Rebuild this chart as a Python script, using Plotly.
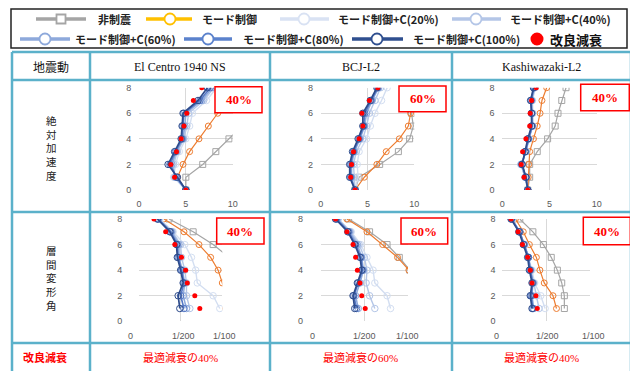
import plotly.graph_objects as go

W, H = 638, 371
OFF = 8  # page body margin: figure starts 8px right/down in the browser

# ---------------- data ----------------
QUAKES = ["El Centro 1940 NS", "BCJ-L2", "Kashiwazaki-L2"]
ROW_LABELS = ["絶対加速度", "層間変形角"]
BOX_LABELS = ["40%", "60%", "40%"]
BOTTOM_LABELS = ["最適減衰の40%", "最適減衰の60%", "最適減衰の40%"]
SERIES = ["非制震", "モード制御", "モード制御+C(20%)", "モード制御+C(40%)",
          "モード制御+C(60%)", "モード制御+C(80%)", "モード制御+C(100%)", "改良減衰"]

FLOORS_ACC = [0, 1, 2, 3, 4, 5, 6, 7, 8]
FLOORS_DRIFT = [1, 2, 3, 4, 5, 6, 7, 8]
ACC_TICKS = [0, 5, 10]
DRIFT_TICKS = [0, 5, 10]          # in 1/1000 rad
DRIFT_TICKTEXT = ["0", "1/200", "1/100"]
Y_TICKS = [0, 2, 4, 6, 8]

# absolute acceleration (m/s2) -- El Centro
ELC_ACC_NON = [5.0, 5.0, 6.8, 8.2, 9.6, 11.0, 12.0, 12.8, 13.5]
ELC_ACC_MODE = [5.0, 4.1, 4.7, 5.4, 6.4, 7.4, 8.4, 9.7, 11.0]
ELC_ACC_C20 = [5.0, 3.7, 3.9, 4.3, 5.0, 5.4, 5.7, 7.2, 8.3]
ELC_ACC_C40 = [5.0, 3.8, 3.7, 4.1, 4.8, 5.1, 5.3, 6.9, 8.0]
ELC_ACC_C60 = [5.0, 3.9, 3.5, 4.0, 4.7, 4.9, 5.0, 6.7, 7.8]
ELC_ACC_C80 = [5.0, 4.0, 3.3, 3.9, 4.6, 4.7, 4.8, 6.5, 7.6]
ELC_ACC_C100 = [5.0, 4.1, 3.1, 3.8, 4.5, 4.6, 4.7, 6.3, 7.3]
ELC_ACC_IMP = [5.0, 3.8, 3.4, 4.0, 4.5, 4.8, 5.1, 5.8, 6.7]

# BCJ-L2
BCJ_ACC_NON = [3.67, 4.1, 6.3, 8.3, 9.5, 9.9, 9.7, 10.4, 11.0]
BCJ_ACC_MODE = [3.67, 4.66, 6.0, 7.0, 8.4, 9.36, 9.6, 9.8, 10.5]
BCJ_ACC_C20 = [3.67, 4.0, 3.9, 4.1, 4.9, 5.3, 5.8, 6.5, 7.1]
BCJ_ACC_C40 = [3.67, 3.6, 3.5, 3.8, 4.5, 4.9, 5.2, 5.8, 6.4]
BCJ_ACC_C60 = [3.67, 3.3, 3.3, 3.6, 4.2, 4.7, 4.9, 5.5, 6.2]
BCJ_ACC_C80 = [3.67, 3.2, 3.2, 3.5, 4.1, 4.6, 4.7, 5.4, 6.1]
BCJ_ACC_C100 = [3.67, 3.1, 3.1, 3.4, 4.0, 4.5, 4.5, 5.3, 6.0]
BCJ_ACC_IMP = [3.67, 3.2, 3.3, 3.5, 4.1, 4.5, 4.4, 5.2, 6.1]

# Kashiwazaki-L2
KSW_ACC_NON = [2.7, 2.9, 2.9, 3.7, 4.8, 5.6, 5.9, 6.3, 6.75]
KSW_ACC_MODE = [2.7, 2.75, 2.8, 2.9, 3.3, 3.7, 4.0, 4.2, 4.7]
KSW_ACC_C20 = [2.7, 2.4, 1.95, 2.55, 2.85, 3.25, 3.25, 3.2, 3.5]
KSW_ACC_C40 = [2.7, 2.4, 2.0, 2.5, 2.8, 3.2, 3.2, 3.15, 3.45]
KSW_ACC_C60 = [2.7, 2.45, 2.0, 2.5, 2.8, 3.2, 3.15, 3.1, 3.4]
KSW_ACC_C80 = [2.7, 2.5, 2.1, 2.45, 2.75, 3.15, 3.1, 3.05, 3.35]
KSW_ACC_C100 = [2.7, 2.5, 2.1, 2.4, 2.7, 3.1, 3.1, 3.0, 3.3]
KSW_ACC_IMP = [2.7, 2.3, 2.0, 2.15, 2.5, 2.9, 2.95, 3.1, 3.6]

# story drift angle (1/1000 rad), floors 1..8 -- El Centro
ELC_DR_NON = [11.5, 11.8, 12.0, 11.5, 10.8, 8.9, 6.5, 3.6]
ELC_DR_MODE = [10.4, 10.6, 10.0, 9.5, 8.6, 7.2, 5.4, 3.0]
ELC_DR_C20 = [9.7, 8.9, 7.0, 6.8, 6.3, 5.5, 4.1, 2.5]
ELC_DR_C40 = [6.1, 5.7, 5.7, 5.5, 5.1, 5.0, 4.0, 2.4]
ELC_DR_C60 = [5.7, 5.3, 5.5, 5.2, 4.8, 4.8, 3.9, 2.3]
ELC_DR_C80 = [5.4, 5.0, 5.4, 5.1, 4.7, 4.6, 3.8, 2.3]
ELC_DR_C100 = [4.9, 4.7, 5.3, 5.0, 4.6, 4.5, 3.7, 2.2]
ELC_DR_IMP = [7.3, 6.7, 5.8, 5.6, 5.1, 4.3, 3.2, 1.8]

# BCJ-L2
BCJ_DR_NON = [11.0, 11.0, 10.8, 10.2, 9.0, 7.6, 5.6, 3.2]
BCJ_DR_MODE = [10.8, 10.8, 10.6, 10.1, 8.8, 7.1, 5.3, 3.0]
BCJ_DR_C20 = [8.0, 7.6, 6.2, 6.0, 5.3, 4.6, 3.5, 2.0]
BCJ_DR_C40 = [6.2, 5.6, 5.2, 5.3, 5.0, 4.4, 3.4, 2.0]
BCJ_DR_C60 = [4.3, 4.0, 4.5, 4.9, 4.7, 4.2, 3.3, 1.9]
BCJ_DR_C80 = [4.1, 3.8, 4.3, 4.8, 4.6, 4.0, 3.2, 1.8]
BCJ_DR_C100 = [3.9, 3.7, 4.2, 4.7, 4.5, 3.9, 3.1, 1.7]
BCJ_DR_IMP = [5.1, 4.7, 4.5, 4.2, 4.0, 3.7, 3.0, 1.7]

# Kashiwazaki-L2
KSW_DR_NON = [7.1, 7.1, 6.8, 6.3, 5.6, 4.7, 3.5, 2.0]
KSW_DR_MODE = [6.2, 5.8, 4.8, 4.3, 3.9, 3.1, 2.4, 1.5]
KSW_DR_C20 = [4.9, 4.4, 3.7, 3.4, 3.0, 2.6, 1.9, 1.2]
KSW_DR_C40 = [4.2, 3.9, 3.6, 3.3, 3.0, 2.5, 1.9, 1.1]
KSW_DR_C60 = [3.6, 3.4, 3.5, 3.2, 3.0, 2.5, 2.0, 1.1]
KSW_DR_C80 = [3.5, 3.3, 3.5, 3.2, 3.0, 2.5, 2.0, 1.05]
KSW_DR_C100 = [3.4, 3.2, 3.4, 3.1, 2.9, 2.4, 1.9, 1.0]
KSW_DR_IMP = [4.0, 3.85, 3.4, 3.2, 2.9, 2.3, 1.8, 1.0]

PANELS = [
    ("acc", [ELC_ACC_NON, ELC_ACC_MODE, ELC_ACC_C20, ELC_ACC_C40, ELC_ACC_C60, ELC_ACC_C80, ELC_ACC_C100, ELC_ACC_IMP]),
    ("acc", [BCJ_ACC_NON, BCJ_ACC_MODE, BCJ_ACC_C20, BCJ_ACC_C40, BCJ_ACC_C60, BCJ_ACC_C80, BCJ_ACC_C100, BCJ_ACC_IMP]),
    ("acc", [KSW_ACC_NON, KSW_ACC_MODE, KSW_ACC_C20, KSW_ACC_C40, KSW_ACC_C60, KSW_ACC_C80, KSW_ACC_C100, KSW_ACC_IMP]),
    ("drift", [ELC_DR_NON, ELC_DR_MODE, ELC_DR_C20, ELC_DR_C40, ELC_DR_C60, ELC_DR_C80, ELC_DR_C100, ELC_DR_IMP]),
    ("drift", [BCJ_DR_NON, BCJ_DR_MODE, BCJ_DR_C20, BCJ_DR_C40, BCJ_DR_C60, BCJ_DR_C80, BCJ_DR_C100, BCJ_DR_IMP]),
    ("drift", [KSW_DR_NON, KSW_DR_MODE, KSW_DR_C20, KSW_DR_C40, KSW_DR_C60, KSW_DR_C80, KSW_DR_C100, KSW_DR_IMP]),
]

# ---------------- styles ----------------
COLORS = ["#A5A5A5", "#ED7D31", "#D3DEF1", "#B4C6E7", "#8EA9DB", "#5679C6", "#2E4C8C", "#FF0000"]
LEGEND_COLORS = ["#A5A5A5", "#FFC000", "#D9E2F3", "#B4C6E7", "#8EA9DB", "#5B82CC", "#2F4F8F", "#FF0000"]
SYMBOLS = ["square-open", "circle-open"] + ["circle-open"] * 5 + ["circle"]
SIZES = [6, 6, 6.5, 6.5, 6.5, 6.5, 6.5, 5]
LWIDTH = [1.2, 1.2, 1.4, 1.4, 1.5, 1.6, 1.7, 0]
JP = "Noto Sans CJK JP"
SERIF = "Liberation Serif"
TICK_FONT = dict(family="Liberation Sans", size=9, color="#595959")
TABLE_C = "#5BB1CA"


def px(x):
    return (x - OFF) / W


def py(y):
    return 1 - (y - OFF) / H


def text_ann(x, y, text, font, xanchor="center"):
    return dict(x=px(x), y=py(y), xref="paper", yref="paper", xanchor=xanchor, yanchor="middle",
                text=text, showarrow=False, font=font)


# plot area rectangles (screen pixels): x0, x1 ; ytop, ybottom
ACC_Y = (87.7, 190.0)
DR_Y = (219.0, 321.3)
ACC_X = [(139.0, 232.7), (320.7, 414.3), (502.3, 596.7)]
DR_X = [(139.0, 222.3), (320.7, 408.0), (502.3, 589.7)]
DR_YTICKLEN = [14, 15, 4]
DR_XLABEL_SHIFT = [[-9, 3, 2], [-8, 0, -1], [-6, 1, 4]]
DR_XLABEL_Y = 335.7

fig = go.Figure()
layout_axes = {}
annotations = []

for i, (kind, series) in enumerate(PANELS):
    n = i + 1
    xa = "x" if n == 1 else f"x{n}"
    ya = "y" if n == 1 else f"y{n}"
    col = i % 3
    if kind == "acc":
        x0, x1 = ACC_X[col]
        yt, yb = ACC_Y
        floors = FLOORS_ACC
    else:
        x0, x1 = DR_X[col]
        yt, yb = DR_Y
        floors = FLOORS_DRIFT
    for s, vals in enumerate(series):
        is_pt = s == len(series) - 1
        fig.add_trace(go.Scatter(
            x=vals, y=floors, xaxis=xa, yaxis=ya,
            mode="markers" if is_pt else "lines+markers",
            name=SERIES[s], showlegend=False,
            line=dict(color=COLORS[s], width=LWIDTH[s] if not is_pt else 1),
            marker=dict(symbol=SYMBOLS[s], size=SIZES[s], color=COLORS[s],
                        line=dict(width=0 if is_pt else 1, color=COLORS[s])),
            cliponaxis=True,
        ))
    kx = "xaxis" if n == 1 else f"xaxis{n}"
    ky = "yaxis" if n == 1 else f"yaxis{n}"
    xax = dict(
        domain=[px(x0), px(x1)], anchor=ya, range=[0, 10],
        tickmode="array", tickvals=ACC_TICKS if kind == "acc" else DRIFT_TICKS,
        showgrid=True, gridcolor="#D9D9D9", gridwidth=1, zeroline=False,
        showline=False, ticks="outside", ticklen=5, tickcolor="rgba(0,0,0,0)",
        tickfont=TICK_FONT, fixedrange=True, automargin=False,
    )
    if kind == "drift":
        xax["showticklabels"] = False
        for t, (tv, tt) in enumerate(zip(DRIFT_TICKS, DRIFT_TICKTEXT)):
            annotations.append(dict(x=tv, y=py(DR_XLABEL_Y), xref=xa, yref="paper", xanchor="center",
                                    yanchor="middle", xshift=DR_XLABEL_SHIFT[col][t], text=tt,
                                    showarrow=False, font=TICK_FONT))
    layout_axes[kx] = xax
    layout_axes[ky] = dict(
        domain=[py(yb), py(yt)], anchor=xa, range=[0, 8],
        tickmode="array", tickvals=Y_TICKS,
        showgrid=True, gridcolor="#D9D9D9", gridwidth=1, zeroline=False,
        showline=False, ticks="outside", ticklen=5 if kind == "acc" else DR_YTICKLEN[col],
        tickcolor="rgba(0,0,0,0)", tickfont=TICK_FONT, fixedrange=True, automargin=False,
    )

shapes = []

# ---- legend box ----
shapes.append(dict(type="rect", xref="paper", yref="paper", x0=px(11), x1=px(627), y0=py(48), y1=py(9),
                   line=dict(color="#222222", width=1.5), fillcolor="rgba(0,0,0,0)"))
LEG_POS = [  # line x0, line x1, marker x, text x, row y
    (36, 86, 61, 96, 19), (146, 192, 170, 200, 19), (280, 329, 304, 336, 19), (452, 501, 476, 508, 19),
    (20, 70, 45, 73, 39), (184, 232, 208, 241, 39), (352, 403, 377, 411, 39), (None, None, 537, 548, 39),
]
for s, (lx0, lx1, mx, tx, ry) in enumerate(LEG_POS):
    c = LEGEND_COLORS[s]
    if lx0 is not None:
        shapes.append(dict(type="line", xref="paper", yref="paper", x0=px(lx0), x1=px(lx1), y0=py(ry), y1=py(ry),
                           line=dict(color=c, width=3.5)))
        shp = "rect" if s == 0 else "circle"
        r = 4.5 if s == 0 else 5.5
        shapes.append(dict(type=shp, xref="paper", yref="paper", xsizemode="pixel", ysizemode="pixel",
                           xanchor=px(mx), yanchor=py(ry), x0=-r, x1=r, y0=-r, y1=r,
                           fillcolor="white", line=dict(color=c, width=1.8)))
        annotations.append(text_ann(tx, ry, f"<b>{SERIES[s]}</b>",
                                    dict(family=JP, size=11, color="#222222"), xanchor="left"))
    else:
        shapes.append(dict(type="circle", xref="paper", yref="paper", xsizemode="pixel", ysizemode="pixel",
                           xanchor=px(mx), yanchor=py(ry), x0=-6.5, x1=6.5, y0=-6.5, y1=6.5,
                           fillcolor="#FF0000", line=dict(color="#FF0000", width=0)))
        annotations.append(text_ann(tx, ry, f"<b>{SERIES[s]}</b>",
                                    dict(family=JP, size=13, color="#111111"), xanchor="left"))

# ---- table grid ----
T_L, T_R, T_T, T_B = 12, 631, 52, 380
COL_X = [T_L, 90, 270, 452, T_R]
ROW_Y = [T_T, 80, 212, 343]
for x in COL_X:
    shapes.append(dict(type="line", xref="paper", yref="paper", x0=px(x), x1=px(x), y0=py(T_T), y1=py(T_B),
                       line=dict(color=TABLE_C, width=2.5)))
for y in ROW_Y:
    shapes.append(dict(type="line", xref="paper", yref="paper", x0=px(T_L), x1=px(T_R), y0=py(y), y1=py(y),
                       line=dict(color=TABLE_C, width=2.5)))

# header row
annotations.append(text_ann(51, 66.5, "地震動", dict(family=JP, size=12, color="#111111")))
for c, q in enumerate(QUAKES):
    cx = (COL_X[c + 1] + COL_X[c + 2]) / 2
    annotations.append(text_ann(cx, 66.5, q, dict(family=SERIF, size=12, color="#111111")))
# row labels (vertical, one character per line)
for lab, cy in zip(ROW_LABELS, [148, 278]):
    annotations.append(text_ann(51, cy, "<br>".join(lab), dict(family=JP, size=10.5, color="#222222")))
# bottom row
annotations.append(text_ann(45, 357, "<b>改良減衰</b>", dict(family=JP, size=11, color="#FF0000")))
for c, lab in enumerate(BOTTOM_LABELS):
    cx = (COL_X[c + 1] + COL_X[c + 2]) / 2
    annotations.append(text_ann(cx, 357, lab, dict(family=f"{SERIF}, {JP}", size=11, color="#FF0000")))

# red boxes
BOXES = [(215, 262, 86.7, 112.7), (399, 446, 86, 111.7), (580.7, 629.3, 84.3, 110.7),
         (216.7, 264, 218, 244), (401, 447.7, 218, 244), (583.3, 630.3, 217.3, 244.7)]
for b, (bx0, bx1, by0, by1) in enumerate(BOXES):
    shapes.append(dict(type="rect", xref="paper", yref="paper", x0=px(bx0), x1=px(bx1), y0=py(by1), y1=py(by0),
                       line=dict(color="#FF0000", width=1.5), fillcolor="white", layer="above"))
    annotations.append(text_ann((bx0 + bx1) / 2, (by0 + by1) / 2, f"<b>{BOX_LABELS[b % 3]}</b>",
                                dict(family=SERIF, size=13, color="#FF0000")))

fig.update_layout(
    width=W, height=H, margin=dict(l=0, r=0, t=0, b=0, pad=0, autoexpand=False),
    paper_bgcolor="white", plot_bgcolor="white", showlegend=False,
    shapes=shapes, annotations=annotations, **layout_axes,
)
fig.write_html("out.html")
